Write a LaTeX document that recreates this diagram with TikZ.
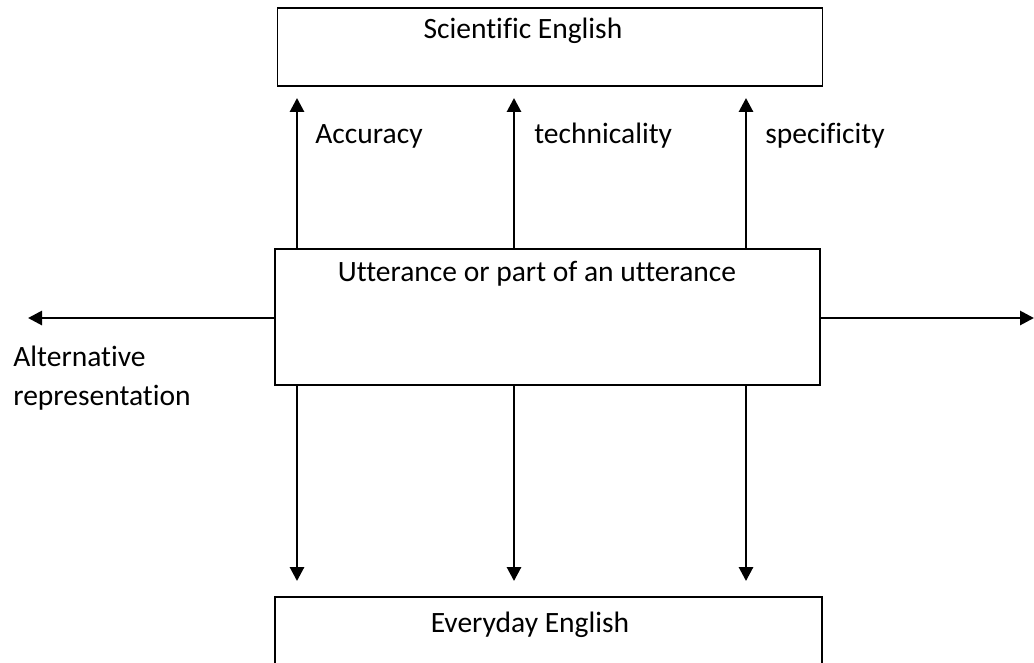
\documentclass[tikz,border=0pt]{standalone}
\usepackage{fontspec}
\setmainfont{Carlito}[Ligatures=NoCommon]
\usepackage{tikz}
\usetikzlibrary{arrows.meta, positioning}

\begin{document}
\begin{tikzpicture}[
    every node/.style = {font=\fontsize{16.8}{22}\selectfont},
    box/.style   = {rectangle, draw, line width=1.1pt, minimum width=10.9cm},
    boxtext/.style = {anchor=base, inner sep=0pt},
    arrow/.style = {-{Triangle[length=0.28cm, width=0.28cm]}, line width=1.6pt},
    tag/.style   = {anchor=base west, inner sep=0pt},
]
\useasboundingbox (0,0) rectangle (20.68,-13.24);

% --- Kotak ---
\node[box, minimum height=1.56cm] (sci) at (11.0,-0.94) {};
\node[boxtext] (scitxt) at (10.46,-0.76) {Scientific English};
\node[box, minimum height=2.72cm] (utt) at (10.95,-6.34) {};
\node[boxtext] (utttxt) at (10.74,-5.62) {Utterance or part of an utterance};
\node[box, minimum height=1.8cm, minimum width=10.94cm] (day) at (10.97,-12.84) {};
\node[boxtext] (daytxt) at (10.6,-12.64) {Everyday English};

% --- Posisi panah ---
\coordinate (c1) at (5.94,0);
\coordinate (c2) at (10.28,0);
\coordinate (c3) at (14.92,0);
\coordinate (west) at (0.56,-6.36);
\coordinate (east) at (20.68,-6.36);

% --- Panah ke atas ---
\foreach \c in {c1,c2,c3}
    \draw[arrow, shorten >=0.22cm] (utt.north -| \c) -- (sci.south -| \c);
% --- Panah ke bawah ---
\foreach \c in {c1,c2,c3}
    \draw[arrow, shorten >=0.3cm] (utt.south -| \c) -- (day.north -| \c);

% --- Panah samping ---
\draw[arrow] (utt.west |- west) -- (west);
\draw[arrow] (utt.east |- east) -- (east);

% --- Label ---
\node[tag] (acc)  at (6.3,-2.86)   {Accuracy};
\node[tag] (tech) at (10.68,-2.86) {technicality};
\node[tag] (spec) at (15.3,-2.86)  {specificity};
\node[tag, align=left] (alt) at (0.26,-8.1) {Alternative\\representation};

\end{tikzpicture}
\end{document}
